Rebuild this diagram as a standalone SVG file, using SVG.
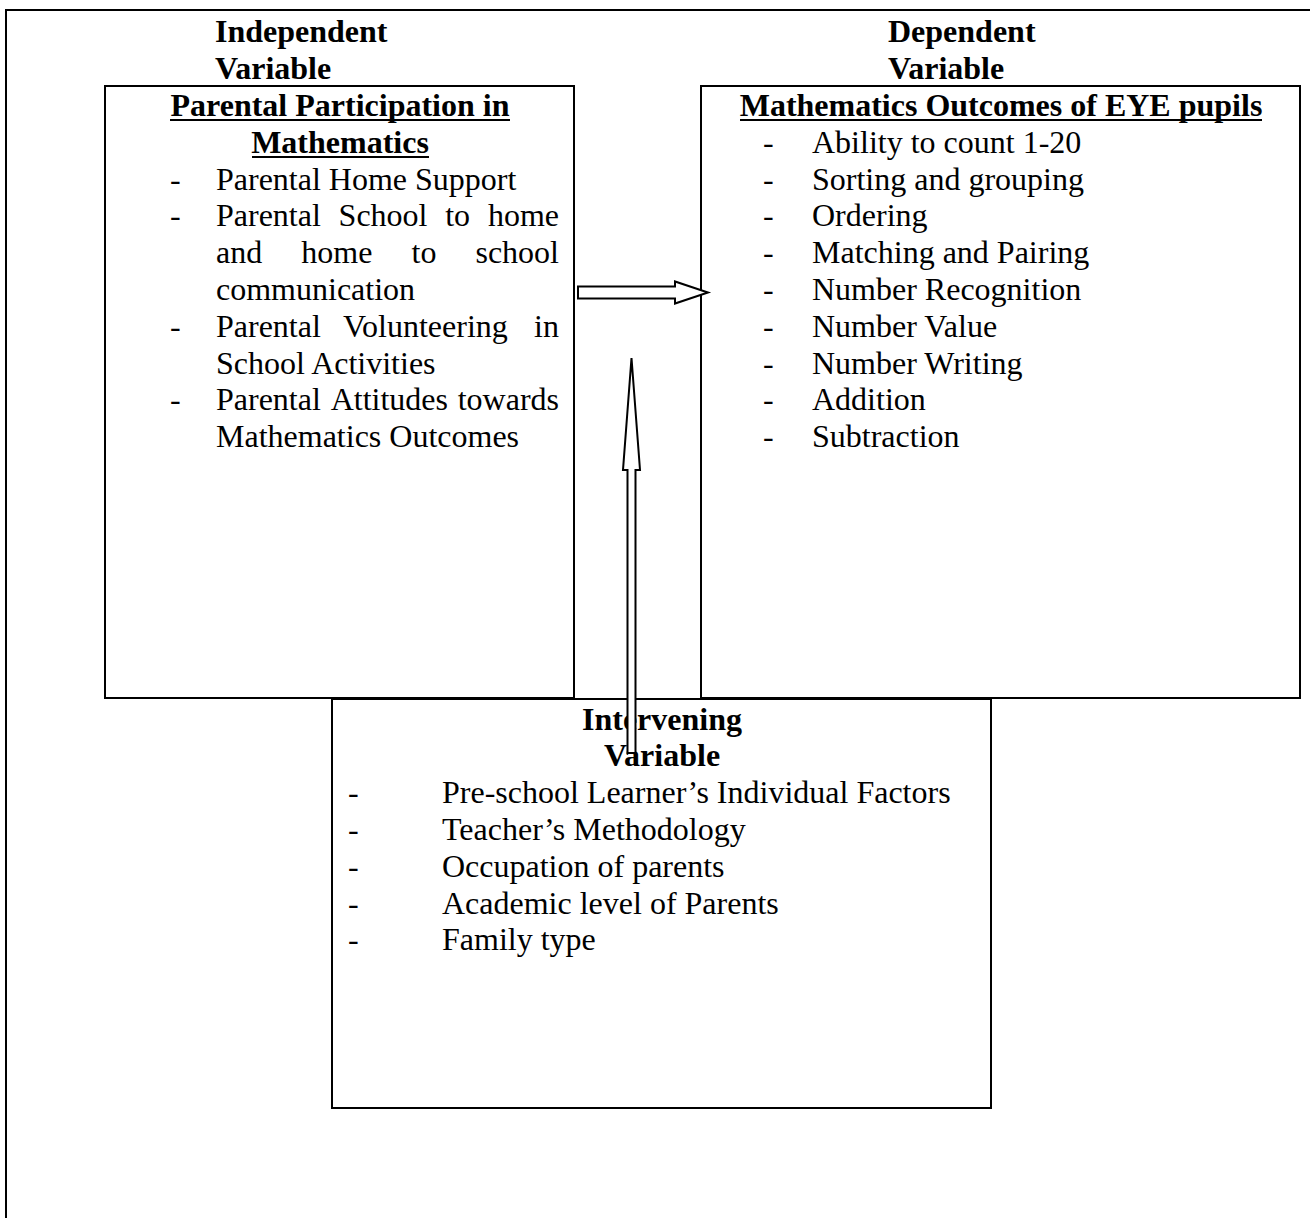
<svg xmlns="http://www.w3.org/2000/svg" width="1310" height="1218" viewBox="0 0 1310 1218">
<style>
text{font-family:"Liberation Serif","Times New Roman",serif;font-size:32px;fill:#000}
.b{font-weight:bold}
.c{text-anchor:middle}
.e{text-anchor:end}
.box{fill:none;stroke:#000;stroke-width:2}
.ul{stroke:#000;stroke-width:2}
.arr{fill:#fff;stroke:#000;stroke-width:2;stroke-linejoin:miter}
</style>
<rect width="1310" height="1218" fill="#fff"/>
<g id="frame">
<path d="M6 1218 V10 H1310" fill="none" stroke="#000" stroke-width="2"/>
</g>
<g id="independent">
<text class="b" x="215" y="42">Independent</text>
<text class="b" x="215" y="78.8">Variable</text>
<rect class="box" x="105" y="86" width="469" height="612"/>
<text class="b c" x="340" y="116">Parental Participation in</text>
<line class="ul" x1="170" y1="120" x2="510" y2="120"/>
<text class="b c" x="340" y="152.8">Mathematics</text>
<line class="ul" x1="252" y1="157" x2="429" y2="157"/>
<text x="170" y="189.6">-</text><text x="216" y="189.6">Parental Home Support</text>
<text x="170" y="226.4">-</text>
<text x="216" y="226.4">Parental</text><text x="338.6" y="226.4">School</text><text x="445.2" y="226.4">to</text><text class="e" x="559" y="226.4">home</text>
<text x="216" y="263.2">and</text><text x="301.3" y="263.2">home</text><text x="411.5" y="263.2">to</text><text class="e" x="559" y="263.2">school</text>
<text x="216" y="300">communication</text>
<text x="170" y="336.8">-</text>
<text x="216" y="336.8">Parental</text><text x="343.1" y="336.8">Volunteering</text><text class="e" x="559" y="336.8">in</text>
<text x="216" y="373.6">School Activities</text>
<text x="170" y="410.4">-</text>
<text x="216" y="410.4">Parental</text><text x="330.7" y="410.4">Attitudes</text><text class="e" x="559" y="410.4">towards</text>
<text x="216" y="447.2">Mathematics Outcomes</text>
</g>
<g id="dependent">
<text class="b" x="888" y="42">Dependent</text>
<text class="b" x="888" y="78.8">Variable</text>
<rect class="box" x="701" y="86" width="599" height="612"/>
<text class="b c" x="1001" y="116">Mathematics Outcomes of EYE pupils</text>
<line class="ul" x1="740" y1="120" x2="1262" y2="120"/>
<text x="763" y="152.8">-</text><text x="812" y="152.8">Ability to count 1-20</text>
<text x="763" y="189.6">-</text><text x="812" y="189.6">Sorting and grouping</text>
<text x="763" y="226.4">-</text><text x="812" y="226.4">Ordering</text>
<text x="763" y="263.2">-</text><text x="812" y="263.2">Matching and Pairing</text>
<text x="763" y="300">-</text><text x="812" y="300">Number Recognition</text>
<text x="763" y="336.8">-</text><text x="812" y="336.8">Number Value</text>
<text x="763" y="373.6">-</text><text x="812" y="373.6">Number Writing</text>
<text x="763" y="410.4">-</text><text x="812" y="410.4">Addition</text>
<text x="763" y="447.2">-</text><text x="812" y="447.2">Subtraction</text>
</g>
<g id="intervening">
<rect class="box" x="332" y="699" width="659" height="409"/>
<text class="b c" x="662" y="729.6">Intervening</text>
<text class="b c" x="662" y="766.4">Variable</text>
<text x="348" y="803.2">-</text><text x="442" y="803.2">Pre-school Learner’s Individual Factors</text>
<text x="348" y="840">-</text><text x="442" y="840">Teacher’s Methodology</text>
<text x="348" y="876.8">-</text><text x="442" y="876.8">Occupation of parents</text>
<text x="348" y="913.6">-</text><text x="442" y="913.6">Academic level of Parents</text>
<text x="348" y="950.4">-</text><text x="442" y="950.4">Family type</text>
</g>
<g id="connectors">
<path class="arr" d="M578 286.5 H675 V281.5 L708 292.5 L675 303.5 V298.5 H578 Z"/>
<path class="arr" d="M631.5 358 L640 470 H635.5 V753 H627.5 V470 H623 Z"/>
</g>
</svg>
